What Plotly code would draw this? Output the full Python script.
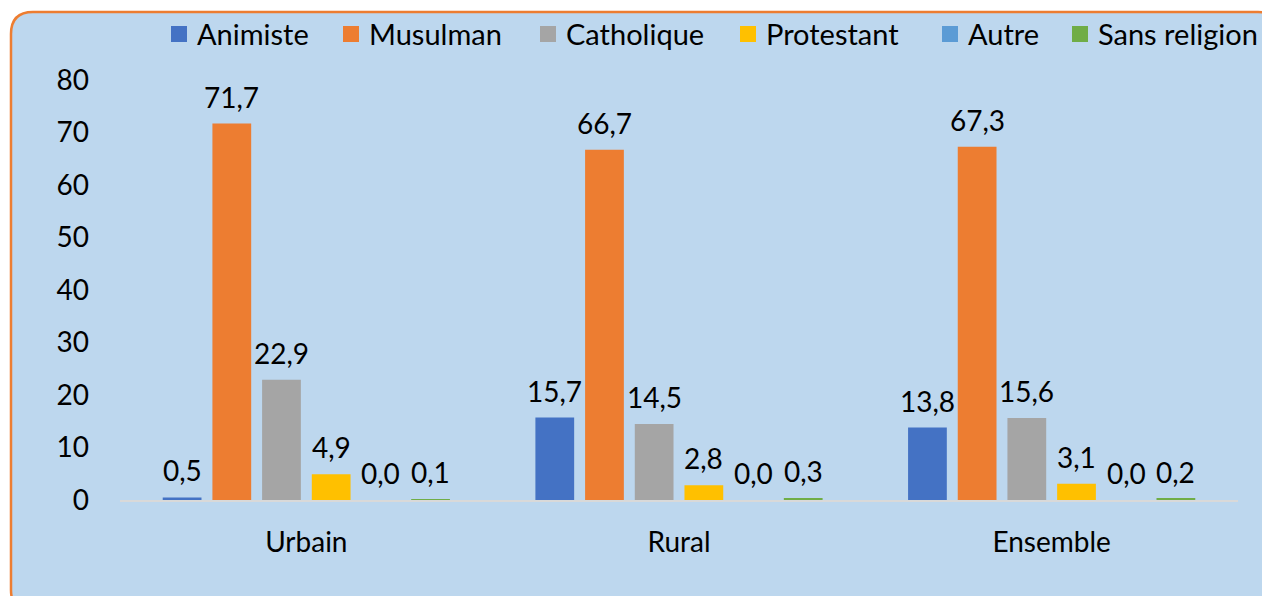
import plotly.graph_objects as go

categories = ["Urbain", "Rural", "Ensemble"]
series_names = ["Animiste", "Musulman", "Catholique", "Protestant", "Autre", "Sans religion"]
animiste = [0.5, 15.7, 13.8]
musulman = [71.7, 66.7, 67.3]
catholique = [22.9, 14.5, 15.6]
protestant = [4.9, 2.8, 3.1]
autre = [0.0, 0.0, 0.0]
sans_religion = [0.1, 0.3, 0.2]
y_ticks = [0, 10, 20, 30, 40, 50, 60, 70, 80]

colors = ["#4472C4", "#ED7D31", "#A5A5A5", "#FFC000", "#5B9BD5", "#70AD47"]
values = [animiste, musulman, catholique, protestant, autre, sans_religion]

W, H = 1262, 596
PLOT_L, PLOT_R, PLOT_T, PLOT_B = 120, 1238, 80, 500
ML, MR, MT, MB = PLOT_L, W - PLOT_R, PLOT_T, H - PLOT_B
PW = W - ML - MR
PH = H - MT - MB
FONT = "Lato, 'Open Sans', sans-serif"
BARGAP, GROUPGAP = 0.2, 0.22
n_series = len(series_names)
slot_px = PW / len(categories) * (1 - BARGAP) / n_series

fig = go.Figure()
for i, (name, vals, col) in enumerate(zip(series_names, values, colors)):
    fig.add_trace(go.Bar(
        name=name, x=categories, y=vals, marker_color=col,
        marker_line_width=0, showlegend=False, textposition="none",
    ))
    # data labels above bars
    for cat, v in zip(categories, vals):
        fig.add_annotation(
            x=cat, y=v, xref="x", yref="y", text=f"{v:.1f}".replace(".", ","),
            showarrow=False, yanchor="bottom", xanchor="center",
            xshift=(i - (n_series - 1) / 2) * slot_px, yshift=8,
            font=dict(size=28, family=FONT, color="#000000"),
        )

def px2paper(px, py):
    return (px - PLOT_L) / PW, (PLOT_B - py) / PH

def P(px, py):
    a, b = px2paper(px, py)
    return f"{a:.5f},{b:.5f}"

# rounded chart border
x0, y0, x1, y1, r = 11, 12, 1280, 612, 22
path = (f"M {P(x0 + r, y0)} L {P(x1 - r, y0)} Q {P(x1, y0)} {P(x1, y0 + r)} "
        f"L {P(x1, y1 - r)} Q {P(x1, y1)} {P(x1 - r, y1)} "
        f"L {P(x0 + r, y1)} Q {P(x0, y1)} {P(x0, y1 - r)} "
        f"L {P(x0, y0 + r)} Q {P(x0, y0)} {P(x0 + r, y0)} Z")
fig.add_shape(type="path", path=path, xref="paper", yref="paper",
              fillcolor="#BDD7EE", line=dict(color="#ED7D31", width=2.5), layer="below")

# legend (manual, to match the spacing of the original)
legend_x = [171, 343, 540, 740, 942, 1072]
legend_y = 34
sq = 16
for name, col, lxp in zip(series_names, colors, legend_x):
    ax0, ay0 = px2paper(lxp, legend_y + sq / 2)
    ax1, ay1 = px2paper(lxp + sq, legend_y - sq / 2)
    fig.add_shape(type="rect", xref="paper", yref="paper", x0=ax0, y0=ay0, x1=ax1, y1=ay1,
                  fillcolor=col, line=dict(width=0))
    tx, ty = px2paper(lxp + sq + 8, legend_y)
    fig.add_annotation(x=tx, y=ty, xref="paper", yref="paper", text=name,
                       showarrow=False, xanchor="left", yanchor="middle",
                       font=dict(size=29, family=FONT, color="#000000"))

fig.update_layout(
    width=W, height=H,
    margin=dict(l=ML, r=MR, t=MT, b=MB, autoexpand=False),
    paper_bgcolor="#FFFFFF", plot_bgcolor="rgba(0,0,0,0)",
    separators=", ",
    barmode="group", bargap=BARGAP, bargroupgap=GROUPGAP,
    font=dict(family=FONT, size=28, color="#000000"),
    showlegend=False,
    xaxis=dict(showline=True, linecolor="#D9D9D9", linewidth=2, showgrid=False,
               ticks="", tickfont=dict(size=28, family=FONT), ticklabelstandoff=16),
    yaxis=dict(range=[0, 80], tickvals=y_ticks, showgrid=False, zeroline=False,
               showline=False, ticks="", tickfont=dict(size=28, family=FONT),
               ticklabelstandoff=30),
)

fig.write_html(
    "out.html",
    config={"displayModeBar": False},
    post_script=("document.body.style.margin='0';document.body.style.overflow='hidden';"
                 "document.documentElement.style.overflow='hidden';"),
)
